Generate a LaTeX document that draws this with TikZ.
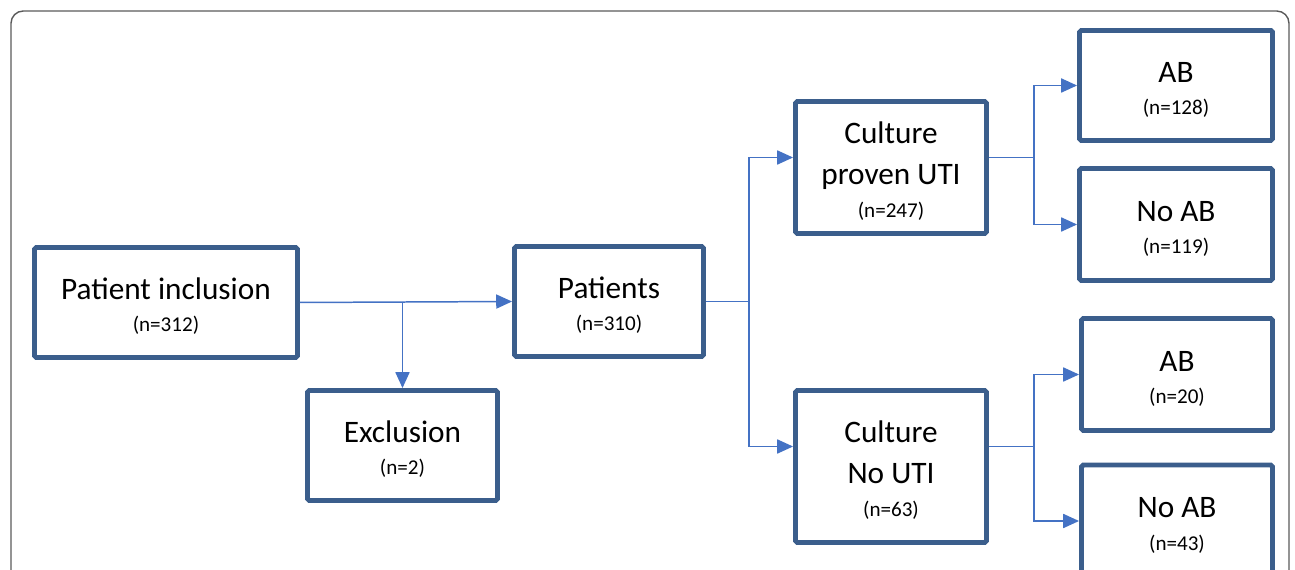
\documentclass[tikz,border=0pt]{standalone}
\usepackage{fontspec}
\setmainfont{Carlito}
\usepackage{tikz}
\usetikzlibrary{positioning,calc,arrows.meta}
\definecolor{boxblue}{RGB}{59,94,140}
\definecolor{arrowblue}{RGB}{68,114,196}
\definecolor{framegray}{RGB}{90,90,90}
\tikzset{box/.style={draw=boxblue, line width=2.8pt, rounded corners=1pt, align=center, inner sep=0pt, font=\fontsize{17.8pt}{23.3pt}\selectfont}}
\tikzset{conn/.style={draw=arrowblue, line width=0.85pt}}
\tikzset{arr/.style={conn, -{Triangle[length=9pt,width=8pt]}}}
\newcommand{\cnt}[1]{{\fontsize{12pt}{14pt}\selectfont (n=#1)}}
\newcommand{\tp}{\rule{0pt}{16.5pt}}

\begin{document}
\begin{tikzpicture}[x=0.2mm, y=-0.2mm]
\useasboundingbox (0,0) rectangle (1295,570);
\clip (0,0) rectangle (1295,570);
\draw[framegray, line width=0.8pt, rounded corners=7pt] (11,11) rectangle (1289,640);

\node[box, minimum width=52.6mm, minimum height=22mm] (incl) at (166,302.5) {\tp Patient inclusion\\[-5pt]\cnt{312}};
\node[box, minimum width=38mm, minimum height=22mm] (excl) at (402.5,445.5) {\tp Exclusion\\[-5pt]\cnt{2}};
\node[box, minimum width=37.8mm, minimum height=22mm] (pat) at (609,301.5) {\tp Patients\\[-5pt]\cnt{310}};
\node[box, minimum width=38.2mm, minimum height=26.4mm] (cpu) at (891,167.5) {\tp Culture\\proven UTI\\[-5pt]\cnt{247}};
\node[box, minimum width=38.2mm, minimum height=30.4mm] (cno) at (891,466.5) {\tp Culture\\No UTI\\[-5pt]\cnt{63}};
\node[box, minimum width=38.6mm, minimum height=22mm] (ab1) at (1176,85.5) {\tp AB\\[-5pt]\cnt{128}};
\node[box, minimum width=38.6mm, minimum height=22.4mm] (nab1) at (1176,224.5) {\tp No AB\\[-5pt]\cnt{119}};
\node[box, minimum width=38.2mm, minimum height=22.4mm] (ab2) at (1177,374.5) {\tp AB\\[-5pt]\cnt{20}};
\node[box, minimum width=38.2mm, minimum height=22.4mm] (nab2) at (1177,521) {\tp No AB\\[-5pt]\cnt{43}};

\draw[arr] (incl.east) -- (pat.west);
\draw[arr] (excl.north |- incl.east) -- (excl.north);
\draw[conn] (pat.east) -- ++(43,0) coordinate (pfork);
\draw[arr] (pfork) |- ($(cpu.west)+(0,-10)$);
\draw[arr] (pfork) |- ($(cno.west)+(0,-20)$);
\draw[conn] ($(cpu.east)+(0,-10)$) -- ++(45,0) coordinate (cfork1);
\draw[arr] (cfork1) |- (ab1.west);
\draw[arr] (cfork1) |- (nab1.west);
\draw[conn] ($(cno.east)+(0,-20)$) -- ++(45,0) coordinate (cfork2);
\draw[arr] (cfork2) |- (ab2.west);
\draw[arr] (cfork2) |- (nab2.west);
\end{tikzpicture}
\end{document}
